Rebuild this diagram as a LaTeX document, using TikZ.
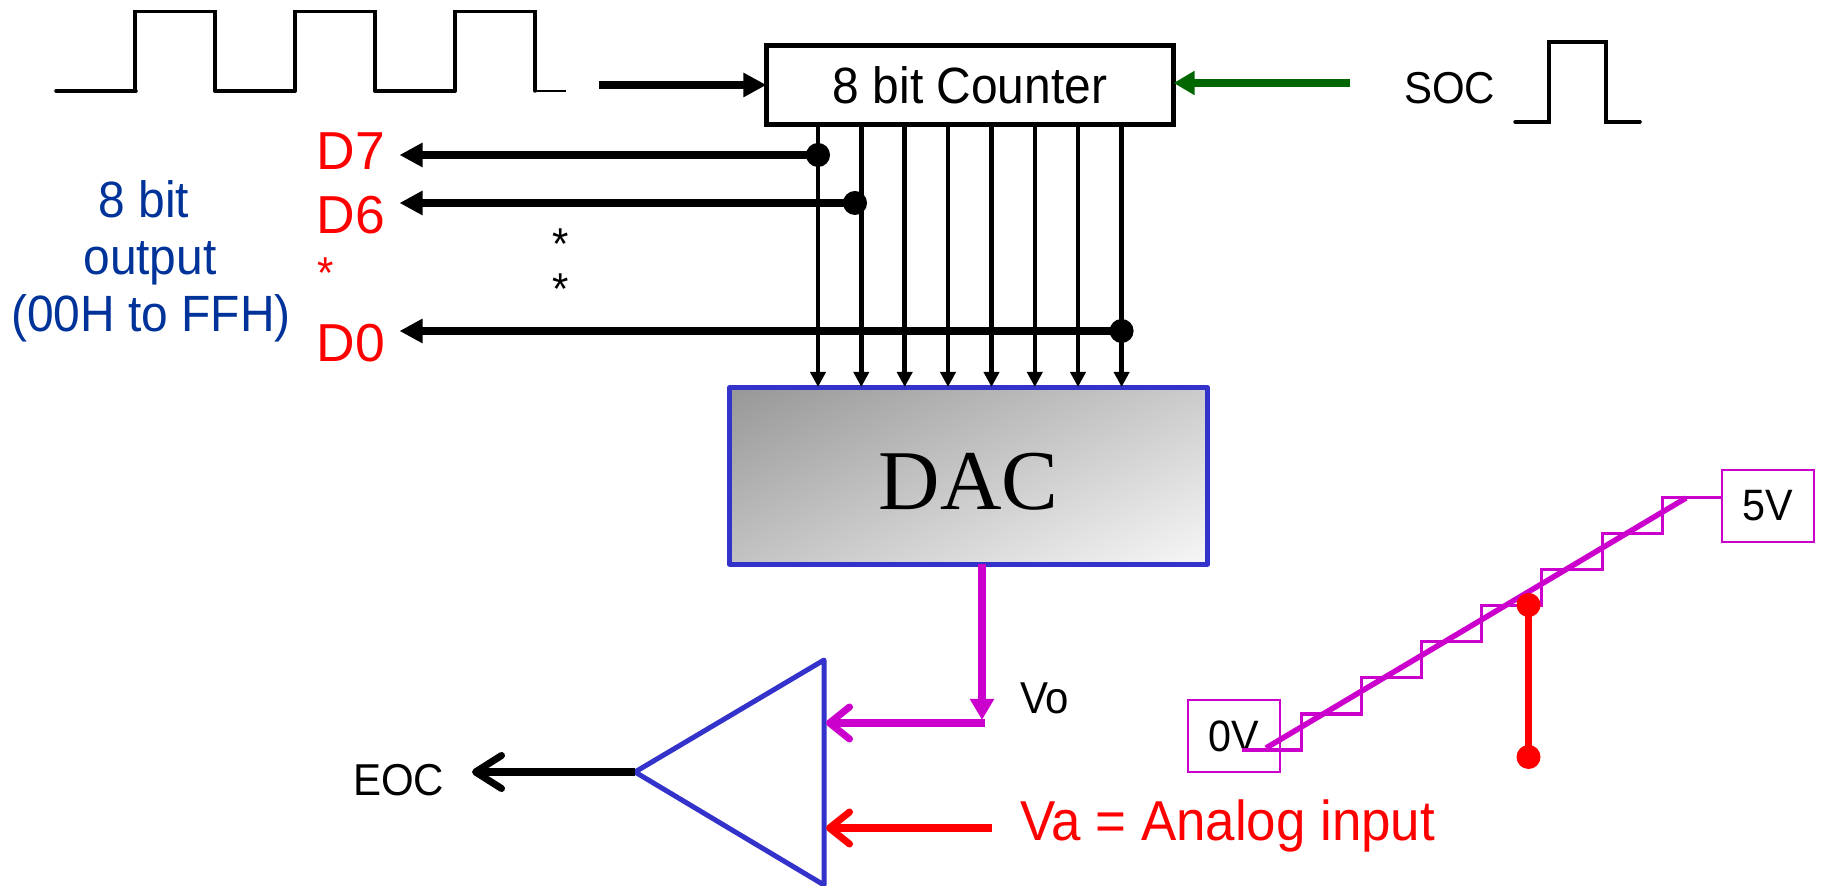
\documentclass[tikz,border=0pt]{standalone}
\usepackage{fontspec}
\setmainfont[FakeStretch=0.94]{Liberation Sans}
\newfontfamily\dfont{Liberation Sans}
\newfontfamily\dacfont{Liberation Serif}
\usetikzlibrary{arrows.meta}
\definecolor{magline}{HTML}{CC00CC}
\definecolor{blueline}{HTML}{3333CC}
\definecolor{outblue}{HTML}{003399}
\definecolor{socgreen}{HTML}{006600}
\definecolor{dacdark}{HTML}{999999}
\definecolor{daclight}{HTML}{F5F5F5}
\pgfdeclareverticalshading{dacshade}{100bp}{color(0bp)=(daclight); color(18bp)=(daclight); color(82bp)=(dacdark); color(100bp)=(dacdark)}
\tikzset{
  txt/.style={inner sep=0pt,outer sep=0pt,anchor=base west},
  small/.style={txt,font=\fontsize{12.7}{15}\selectfont},
  dlabel/.style={txt,text=red,font=\fontsize{15.2}{18}\dfont},
  outlabel/.style={txt,anchor=base,text=outblue,font=\fontsize{14.5}{17}\selectfont},
  wave/.style={draw,line width=0.035cm,line cap=round},
  busline/.style={draw,line width=0.045cm,-{Triangle[length=0.15cm,width=0.15cm]}},
  outline/.style={draw,line width=0.075cm,-{Triangle[length=0.23cm,width=0.23cm]}},
  barb/.style={draw,line width=0.07cm,-{Straight Barb[length=0.2cm,width=0.32cm,round]}},
  dot/.style={circle,fill,inner sep=0pt,outer sep=0pt,minimum size=0.24cm},
  voltbox/.style={draw=magline,line width=0.02cm,fill=white,inner sep=0pt,outer sep=0pt,font=\fontsize{12.5}{15}\selectfont},
}
\begin{document}
\begin{tikzpicture}[x=0.01cm,y=-0.01cm]
\useasboundingbox (0,0) rectangle (1822,886);
\foreach \x in {56,215,375} \path[wave] (\x,91) -- (\x+80,91);
\foreach \x in {135,295,455} \path[wave] (\x,91) -- (\x,11.5) -- (\x+80,11.5) -- (\x+80,91);
\path[draw,line width=0.02cm] (535,91) -- (566,91);
\node[draw,line width=0.05cm,inner sep=0pt,outer sep=0pt,minimum width=4.07cm,minimum height=0.78cm,font=\fontsize{14.5}{17}\selectfont] (counter) at (970,85) {8 bit Counter};
\node[draw=blueline,line width=0.05cm,line join=round,inner sep=0pt,outer sep=0pt,minimum width=4.78cm,minimum height=1.76cm,shading=dacshade,shading angle=24,text height=0.66cm,text depth=0cm,font=\fontsize{24.2}{29}\dacfont] (dac) at (968.5,476) {DAC};
\coordinate (clk) at (599,85);
\path[outline] (clk) -- (counter.west);
\coordinate (socin) at (1350,83);
\path[outline,draw=socgreen,fill=socgreen,-{Triangle[length=0.21cm,width=0.23cm]}] (socin) -- (socin -| counter.east);
\node[small] (soc) at (1404,104) {SOC};
\path[wave] (1515,122) -- (1549,122) -- (1549,42) -- (1606,42) -- (1606,122) -- (1640,122);
\foreach \i/\x in {7/818,6/861.3,5/904.7,4/948,3/991.5,2/1034.8,1/1078,0/1121.6} {
  \coordinate (top\i) at (\x,127);
  \coordinate (bot\i) at (\x,387);
  \path[busline] (top\i) -- (bot\i);
}
\node[dot] (p7) at (818,155) {};
\node[dot] (p6) at (855,203) {};
\node[dot] (p0) at (1121.6,331) {};
\coordinate (q7) at (399.5,155);
\coordinate (q6) at (399.5,203);
\coordinate (q0) at (399.5,331);
\foreach \i in {7,6,0} \path[outline] (p\i.center) -- (q\i);
\node[dlabel] (d7) at (316.5,170) {D7};
\node[dlabel] (d6) at (316.5,234) {D6};
\node[dlabel] (d0) at (316.5,362) {D0};
\node[small,text=red] (stara) at (317,289) {*};
\node[small] (starb) at (552,260) {*};
\node[small] (starc) at (552,305) {*};
\node[outlabel] (outa) at (144,218) {8 bit};
\node[outlabel] (outb) at (150,275) {output};
\node[outlabel] (outc) at (151,332) {(00H to FFH)};
\coordinate (apex) at (635,772);
\coordinate (cmptop) at (824,660);
\coordinate (cmpbot) at (824,885);
\path[draw=blueline,line width=0.05cm,line join=round] (apex) -- (cmptop) -- (cmpbot) -- cycle;
\coordinate (vo) at (982,720);
\path[outline,draw=magline,fill=magline,-{Triangle[length=0.21cm,width=0.23cm]}] (vo |- dac.south) -- (vo);
\coordinate (vob) at (985,723);
\coordinate (voc) at (826,723);
\path[barb,draw=magline] (vob) -- (voc);
\coordinate (vaa) at (992,828);
\coordinate (vab) at (826,828);
\path[barb,draw=red] (vaa) -- (vab);
\coordinate (eoc) at (472,772);
\path[barb,-{Straight Barb[length=0.26cm,width=0.33cm,round]}] (apex) -- (eoc);
\node[small] (eoclbl) at (353,795) {EOC};
\node[small] (volbl) at (1020,714) {Vo};
\node[txt,text=red,font=\fontsize{16}{19}\selectfont] (valbl) at (1020,840) {Va = Analog input};
\node[voltbox,minimum width=0.92cm,minimum height=0.72cm] (v0) at (1234,736) {0V};
\node[voltbox,minimum width=0.92cm,minimum height=0.71cm] (v5) at (1768,506) {5V};
\path[draw=magline,line width=0.03cm] (1242,750) -- (1301,750) foreach \i in {1,...,6} { -- ++(0,-36) -- ++(60.2,0) } -- ++(0,-36) -- (v5.west |- 0,498);
\coordinate (ramp) at (1266,748);
\coordinate (rampb) at (1686,498);
\path[draw=magline,line width=0.055cm] (ramp) -- (rampb);
\node[dot,fill=red] (ra) at (1528.5,605) {};
\node[dot,fill=red] (rb) at (1528.5,757) {};
\path[draw=red,line width=0.065cm] (ra.center) -- (rb.center);
\end{tikzpicture}
\end{document}
